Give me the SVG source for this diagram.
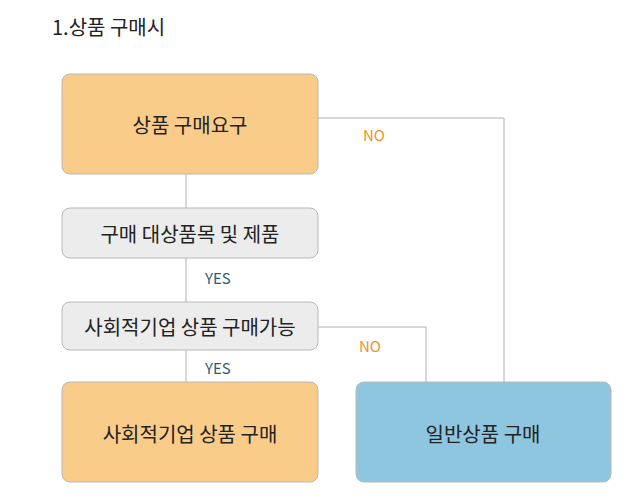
<svg xmlns="http://www.w3.org/2000/svg" width="640" height="504" viewBox="0 0 640 504">
<style>
text{font-family:"Noto Sans CJK KR","Noto Sans",sans-serif}
.b{stroke:#b8b8b8;stroke-width:1}
.t{font-size:20px;fill:#222;text-anchor:middle;dominant-baseline:central}
.l{fill:none;stroke:#b0b0b0;stroke-width:1}
.y{font-size:15px;fill:#2f6070}
.n{font-size:15px;fill:#f0922a}
</style>
<rect width="640" height="504" fill="#fff"/>
<text x="52" y="35" style="font-size:20px;fill:#222">1.상품 구매시</text>
<g id="connectors">
<path class="l" d="M186 174V208M186 258V302M186 350V382M318 118H504V382M318 327H426V382"/>
<text class="y" x="205" y="284">YES</text>
<text class="y" x="205" y="374">YES</text>
<text class="n" x="363" y="141">NO</text>
<text class="n" x="359" y="352">NO</text>
</g>
<g id="n1"><rect class="b" x="62" y="74" width="256" height="100" rx="8" fill="#f9cc8a"/><text class="t" x="190" y="124">상품 구매요구</text></g>
<g id="n2"><rect class="b" x="62" y="208" width="256" height="50" rx="8" fill="#ececec"/><text class="t" x="190" y="233">구매 대상품목 및 제품</text></g>
<g id="n3"><rect class="b" x="62" y="302" width="256" height="48" rx="8" fill="#ececec"/><text class="t" x="190" y="326">사회적기업 상품 구매가능</text></g>
<g id="n4"><rect class="b" x="62" y="382" width="256" height="100" rx="8" fill="#f9cc8a"/><text class="t" x="190" y="433">사회적기업 상품 구매</text></g>
<g id="n5"><rect class="b" x="356" y="382" width="255" height="100" rx="8" fill="#8ec6df"/><text class="t" x="483" y="433">일반상품 구매</text></g>
</svg>
